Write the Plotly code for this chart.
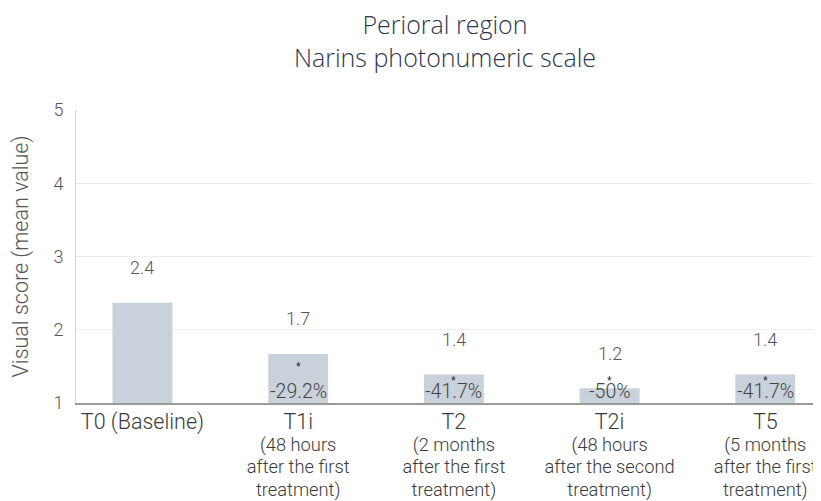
import plotly.graph_objects as go

categories = ["T0 (Baseline)", "T1i", "T2", "T2i", "T5"]
sublabels = ["", "(48 hours<br>after the first<br>treatment)", "(2 months<br>after the first<br>treatment)",
             "(48 hours<br>after the second<br>treatment)", "(5 months<br>after the first<br>treatment)"]
values = [2.37, 1.67, 1.39, 1.2, 1.39]
value_labels = ["2.4", "1.7", "1.4", "1.2", "1.4"]
change_labels = ["", "-29.2%", "-41.7%", "-50%", "-41.7%"]
significance = ["", "*", "*", "*", "*"]
y_ticks = [1, 2, 3, 4, 5]

FONT = "Roboto"
TFONT = "Open Sans"
W = 300

x = list(range(len(categories)))
ticktext = []
for c, s in zip(categories, sublabels):
    if s:
        ticktext.append("<span style='font-size:21.5px'>" + c + "</span><br><span style='font-size:18.3px'>" + s + "</span>")
    else:
        ticktext.append("<span style='font-size:21.5px'>" + c + "</span>")

fig = go.Figure()
fig.add_trace(go.Bar(x=x, y=values, width=0.385, marker=dict(color="#c9d1db", line=dict(width=0)),
                     hoverinfo="skip"))

px_per_unit = 293 / 4.0
for i, v in enumerate(values):
    fig.add_annotation(x=i, y=v, text=value_labels[i], showarrow=False, yshift=35,
                       font=dict(size=18, color="#555555", family=FONT, weight=W))
    if change_labels[i]:
        fig.add_annotation(x=i, y=1, text=change_labels[i], showarrow=False, yshift=12,
                           font=dict(size=19.5, color="#444444", family=FONT, weight=W))
        bar_px = (v - 1) * px_per_unit
        star_shift = bar_px - 13 if bar_px > 45 else 22
        fig.add_annotation(x=i, y=1, text=significance[i], showarrow=False, yshift=star_shift,
                           font=dict(size=12, color="#222222", family="Liberation Sans"))

fig.update_layout(
    width=813, height=493,
    margin=dict(l=68, r=0, t=102, b=98),
    paper_bgcolor="white", plot_bgcolor="white",
    showlegend=False,
    title=dict(text="Perioral region<br>Narins photonumeric scale", x=437 / 813, xanchor="center",
               y=0.947, yanchor="top",
               font=dict(size=25, color="#2e3550", family=TFONT, weight=W)),
)
fig.update_xaxes(tickmode="array", tickvals=x, ticktext=ticktext, range=[-0.427, 4.358],
                 showline=True, linecolor="#9a9a9a", linewidth=1.5, ticks="", showgrid=False,
                 ticklabelstandoff=3, automargin=False,
                 tickfont=dict(size=17.3, color="#3a3a3a", family=FONT, weight=W))
fig.update_yaxes(range=[1, 5], tickvals=y_ticks, showline=True, linecolor="#d0d0d0", linewidth=1,
                 showgrid=True, gridcolor="#ececec", zeroline=False, ticks="",
                 ticklabelstandoff=8, automargin=False,
                 tickfont=dict(size=18, color="#555555", family=FONT, weight=W),
                 title=dict(text="Visual score (mean value)", standoff=20,
                            font=dict(size=21.5, color="#555555", family=FONT, weight=W)))

fig.write_html("out.html")
